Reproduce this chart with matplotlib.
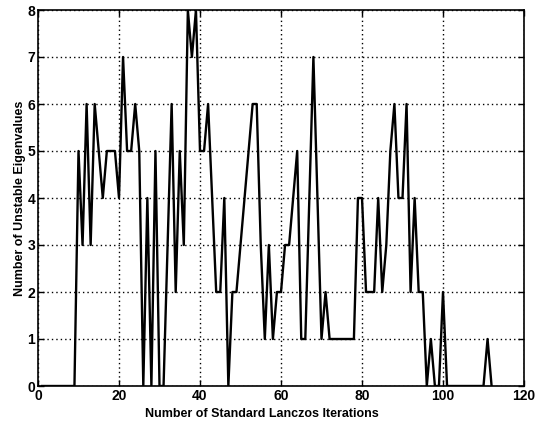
import matplotlib
matplotlib.use("Agg")
import matplotlib.pyplot as plt
import numpy as np

iterations = list(range(1, 113))
unstable = [0, 0, 0, 0, 0, 0, 0, 0, 0,          # 1-9
            5, 3, 6, 3, 6, 5, 4, 5, 5, 5,       # 10-19
            4, 7, 5, 5, 6, 5, 0, 4, 0, 5,       # 20-29
            0, 0, 3, 6, 2, 5, 3, 8, 7, 8,       # 30-39
            5, 5, 6, 4, 2, 2, 4, 0, 2, 2,       # 40-49
            3, 4, 5, 6, 6, 3, 1, 3, 1, 2,       # 50-59
            2, 3, 3, 4, 5, 1, 1, 4, 7, 4,       # 60-69
            1, 2, 1, 1, 1, 1, 1, 1, 1, 4,       # 70-79
            4, 2, 2, 2, 4, 2, 3, 5, 6, 4,       # 80-89
            4, 6, 2, 4, 2, 2, 0, 1, 0, 0,       # 90-99
            2, 0, 0, 0, 0, 0, 0, 0, 0, 0,       # 100-109
            0, 1, 0]                            # 110-112
x_ticks = [0, 20, 40, 60, 80, 100, 120]
y_ticks = [0, 1, 2, 3, 4, 5, 6, 7, 8]

plt.rcParams['font.family'] = ['Liberation Sans', 'DejaVu Sans']

fig = plt.figure(figsize=(5.37, 4.22), dpi=100)
ax = fig.add_axes([38/537, 1-386/422, (524-38)/537, (386-10)/422])
ax.plot(iterations, unstable, color='black', linewidth=1.7)
ax.set_xlim(0, 120)
ax.set_ylim(0, 8)
ax.set_xticks(x_ticks)
ax.set_yticks(y_ticks)
ax.grid(True, color='black', linestyle=(0, (1, 2.2)), linewidth=1.0)
ax.tick_params(direction='in', length=4, width=1, top=True, right=True, pad=2)
for lab in ax.get_xticklabels() + ax.get_yticklabels():
    lab.set_fontweight('bold')
    lab.set_fontsize(10)
for s in ax.spines.values():
    s.set_linewidth(1.2)
ax.set_xlabel('Number of Standard Lanczos Iterations', fontsize=9, fontweight='bold', labelpad=0)
ax.xaxis.set_label_coords(0.461, -0.058)
ax.set_ylabel('Number of Unstable Eigenvalues', fontsize=9, fontweight='bold', labelpad=1)
fig.savefig('out.png', dpi=100)
